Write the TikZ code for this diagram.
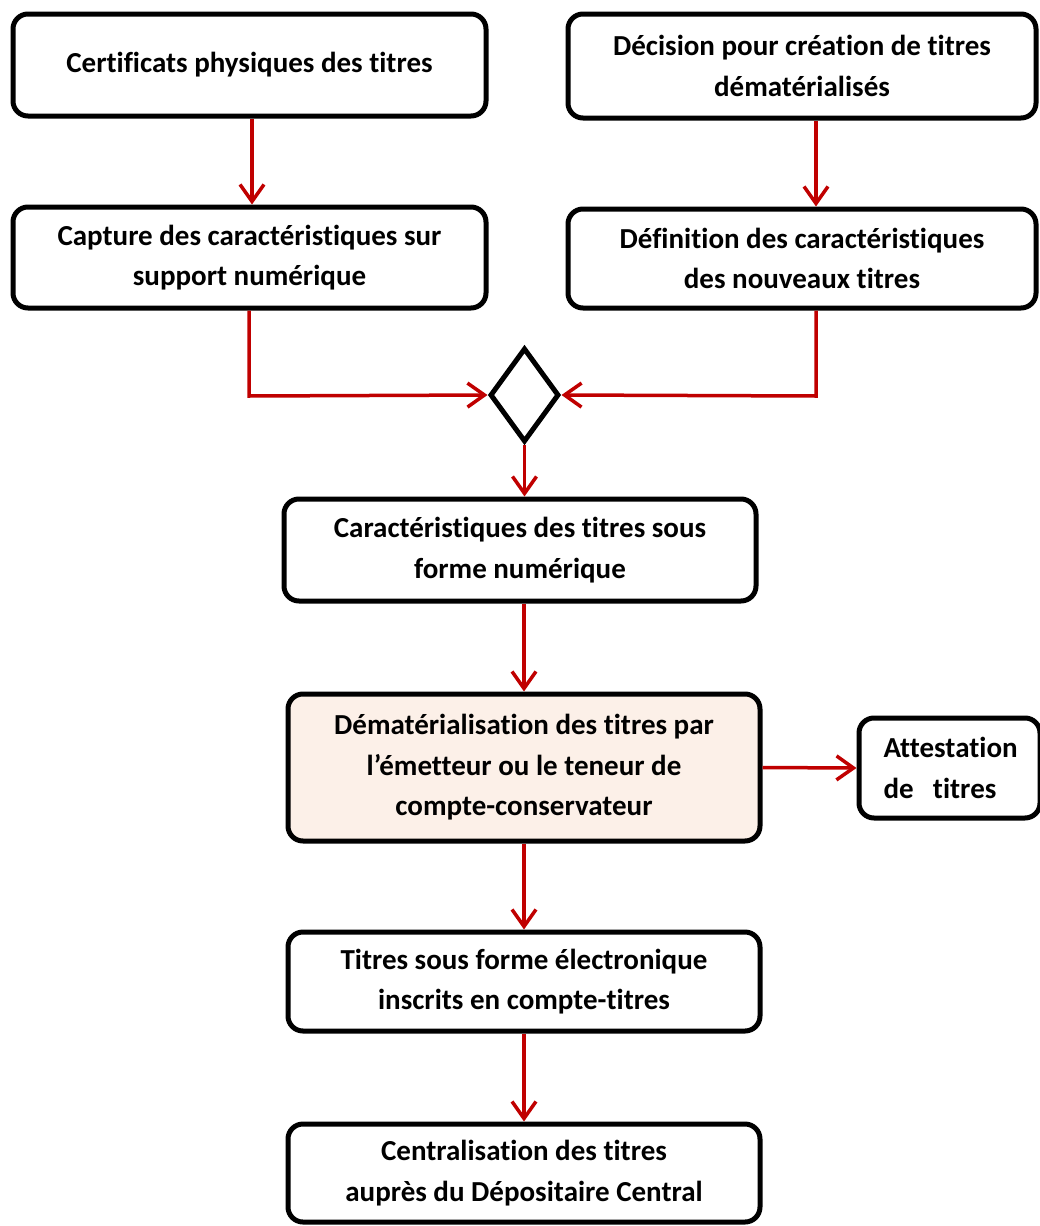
\documentclass[tikz,border=0pt]{standalone}
\usepackage{fontspec}
\setmainfont{Carlito}[Ligatures=NoCommon]
\usetikzlibrary{shapes.geometric,arrows.meta}
\definecolor{arrred}{RGB}{192,0,0}
\definecolor{peach}{RGB}{252,240,232}
\begin{document}
\begin{tikzpicture}[x=1pt,y=-1pt,
  box/.style={draw=black,line width=5pt,rounded corners=15pt,inner sep=0pt,align=center,
    font=\fontsize{29}{40.5}\selectfont\bfseries},
  conn/.style={draw=arrred,line width=3.5pt,-{Straight Barb[length=17pt,width=24pt,line width=3.5pt]}}]
\useasboundingbox (0,0) rectangle (1040,1226);
\node[box,minimum width=473pt,minimum height=102pt] (b1) at (249.5,65) {Certificats physiques des titres};
\node[box,minimum width=468pt,minimum height=104pt] (b2) at (802,66) {Décision pour création de titres\\dématérialisés};
\node[box,minimum width=473pt,minimum height=101pt] (b3) at (249.5,257.5) {Capture des caractéristiques sur\\support numérique};
\node[box,minimum width=468pt,minimum height=99pt] (b4) at (802,258.5) {Définition des caractéristiques\\des nouveaux titres};
\node[draw=black,line width=5pt,shape=diamond,inner sep=0pt,minimum width=69pt,minimum height=94pt] (d) at (524.5,395) {};
\node[box,minimum width=472pt,minimum height=102pt] (b5) at (520,550) {Caractéristiques des titres sous\\forme numérique};
\node[box,fill=peach,minimum width=472pt,minimum height=147pt] (b6) at (524,767.5) {Dématérialisation des titres par\\l’émetteur ou le teneur de\\compte-conservateur};
\node[box,align=left,minimum width=181pt,minimum height=100pt,text width=132pt] (at) at (949.5,768) {Attestation\\de\ \ titres};
\node[box,minimum width=472pt,minimum height=99pt] (b7) at (524,981.5) {Titres sous forme électronique\\inscrits en compte-titres};
\node[box,minimum width=472pt,minimum height=98pt] (b8) at (524,1173) {Centralisation des titres\\auprès du Dépositaire Central};
\coordinate (c3) at (249,396);
\coordinate (c4) at (816,396);
\draw[conn] (b1.south -| 252,0) -- (b3.north -| 252,0);
\draw[conn] (b2.south -| 816,0) -- (b4.north -| 816,0);
\draw[conn] (b3.south -| c3) -- (c3) -- (d.west);
\draw[conn] (b4.south -| c4) -- (c4) -- (d.east);
\draw[conn] (d.south) -- (d.south |- b5.north);
\draw[conn] (b5.south -| b6.north) -- (b6.north);
\draw[conn] (b6.east) -- (at.west);
\draw[conn] (b6.south) -- (b7.north);
\draw[conn] (b7.south) -- (b8.north);
\end{tikzpicture}
\end{document}
